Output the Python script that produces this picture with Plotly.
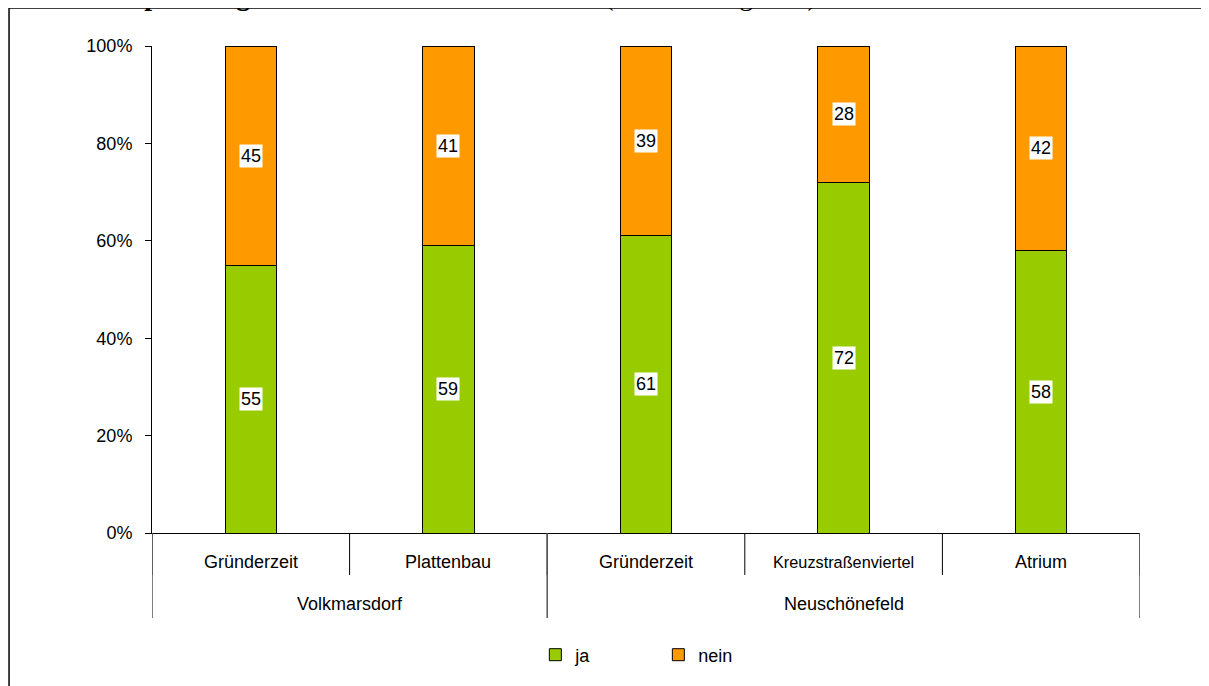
import plotly.graph_objects as go

groups = ["Volkmarsdorf", "Neuschönefeld"]
group_members = [2, 3]
categories = ["Gründerzeit", "Plattenbau", "Gründerzeit", "Kreuzstraßenviertel", "Atrium"]
ja = [55, 59, 61, 72, 58]
nein = [45, 41, 39, 28, 42]
y_ticks = [0, 20, 40, 60, 80, 100]
y_ticktext = [f"{v}%" for v in y_ticks]
title_bold = "Abb. 42 Empfehlung des Viertels an einen Freund "
title_regular = "(nach Wohngebiet)"

GREEN = "#99CC00"
ORANGE = "#FF9900"
FONT = "Liberation Sans, Arial, sans-serif"

x = list(range(len(categories)))
fig = go.Figure()
fig.add_trace(go.Bar(x=x, y=ja, name="ja", marker=dict(color=GREEN, line=dict(color="black", width=1)), width=0.26))
fig.add_trace(go.Bar(x=x, y=nein, name="nein", marker=dict(color=ORANGE, line=dict(color="black", width=1)), width=0.26))

annotations = []
for i in x:
    annotations.append(dict(x=i, y=ja[i] / 2, text=str(ja[i]), showarrow=False, bgcolor="white",
                            font=dict(family=FONT, size=18, color="black"), borderpad=1))
    annotations.append(dict(x=i, y=ja[i] + nein[i] / 2, text=str(nein[i]), showarrow=False, bgcolor="white",
                            font=dict(family=FONT, size=18, color="black"), borderpad=1))
    size = 18 if len(categories[i]) < 15 else 16.3
    annotations.append(dict(x=i, y=-0.0595, yref="paper", text=categories[i], showarrow=False,
                            font=dict(family=FONT, size=size, color="black"), yanchor="middle"))

shapes = []
# inner dividers
for k in range(len(categories) + 1):
    shapes.append(dict(type="line", xref="x", yref="paper", x0=k - 0.5, x1=k - 0.5, y0=0, y1=-0.0862,
                       line=dict(color="black", width=1)))
# group labels and dividers
start = 0
shapes.append(dict(type="line", xref="x", yref="paper", x0=-0.5, x1=-0.5, y0=0, y1=-0.1745,
                   line=dict(color="#555555", width=1.5)))
for g, n in zip(groups, group_members):
    end = start + n
    annotations.append(dict(x=(start + end - 1) / 2, y=-0.146, yref="paper", text=g, showarrow=False,
                            font=dict(family=FONT, size=18, color="black"), yanchor="middle"))
    shapes.append(dict(type="line", xref="x", yref="paper", x0=end - 0.5, x1=end - 0.5, y0=0, y1=-0.1745,
                       line=dict(color="#555555", width=1.5)))
    start = end

# outer frame (left and top)
shapes.append(dict(type="line", xref="paper", yref="paper", x0=-0.1447, x1=-0.1447, y0=1.078, y1=-0.4,
                   line=dict(color="black", width=1.5)))
shapes.append(dict(type="line", xref="paper", yref="paper", x0=-0.1447, x1=1.1, y0=1.078, y1=1.078,
                   line=dict(color="black", width=1.5)))

# title (cut off at top as in the reference)
annotations.append(dict(xref="paper", yref="paper", x=-0.154, y=1.0678, xanchor="left", yanchor="bottom",
                        showarrow=False,
                        text="<b>" + title_bold + "</b>" + title_regular,
                        font=dict(family="Liberation Serif, serif", size=28, color="black")))

fig.update_layout(
    width=1201, height=678,
    margin=dict(l=144, r=69, t=38, b=153),
    barmode="stack",
    plot_bgcolor="white", paper_bgcolor="white",
    font=dict(family=FONT, size=18, color="black"),
    showlegend=True,
    legend=dict(orientation="h", x=0.388, xanchor="left", y=-0.2505, yanchor="middle",
                entrywidth=78, entrywidthmode="pixels", font=dict(family=FONT, size=18, color="black"),
                itemwidth=30, traceorder="normal"),
    xaxis=dict(range=[-0.5, 4.5], showticklabels=False, showgrid=False, zeroline=False,
               showline=True, linecolor="black", linewidth=1, ticks=""),
    yaxis=dict(range=[0, 100], tickmode="array", tickvals=y_ticks, ticktext=y_ticktext,
               showgrid=False, zeroline=False,
               showline=True, linecolor="black", linewidth=1, ticks="outside", ticklen=6,
               ticklabelstandoff=9,
               tickcolor="black", tickfont=dict(family=FONT, size=18, color="black")),
    annotations=annotations,
    shapes=shapes,
)

fig.write_html("out.html")
